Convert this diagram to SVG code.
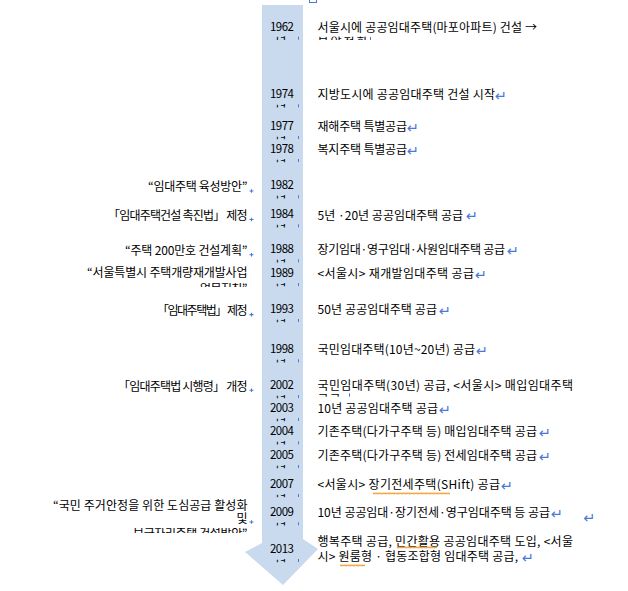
<svg xmlns="http://www.w3.org/2000/svg" width="628" height="591" viewBox="0 0 628 591">
<style>
text{font-family:"Noto Sans CJK KR","Noto Sans",sans-serif;font-size:12px;fill:#000}
.yr{text-anchor:middle;font-size:11.5px}
.l{text-anchor:end}
.pm{font-family:"DejaVu Sans",sans-serif;font-size:14.5px;fill:#4a78d6}
.tick{stroke:#4a78d6;stroke-width:1}
.plus{stroke:#4a78d6;stroke-width:1.1;fill:none}
</style>
<defs>
<clipPath id="cy" clipPathUnits="userSpaceOnUse"><rect x="260" y="5.5" width="50" height="3.8"/></clipPath>
<clipPath id="c1962r" clipPathUnits="userSpaceOnUse"><rect x="310" y="36.6" width="80" height="3.5"/></clipPath>
<clipPath id="c1989l" clipPathUnits="userSpaceOnUse"><rect x="150" y="283" width="100" height="4"/></clipPath>
<clipPath id="c2002r" clipPathUnits="userSpaceOnUse"><rect x="310" y="393.3" width="60" height="3.4"/></clipPath>
<clipPath id="c2009l" clipPathUnits="userSpaceOnUse"><rect x="120" y="528" width="130" height="5"/></clipPath>
<pattern id="wv" width="4" height="3" patternUnits="userSpaceOnUse"><path d="M0,2.4 L1,0.6 L2,2.4 L3,0.6 L4,2.4" stroke="#f0a030" stroke-width="0.9" fill="none"/></pattern>
</defs>
<rect width="628" height="591" fill="#fff"/>

<g id="timeline">
<polygon points="262,5 303,5 303,539 318,549 283,585 245,552 262,543" fill="#c9daee"/>
<rect x="309.5" y="-4" width="7" height="6.5" fill="none" stroke="#4a78d6" stroke-width="1"/>
</g>

<g id="connectors"></g>

<g id="e1962">
<g transform="translate(0,30.7)"><text class="yr" x="282" y="0" textLength="24">1962</text><text class="yr" x="281" y="15.6" clip-path="url(#cy)">년</text><line class="tick" x1="298.5" y1="6" x2="298.5" y2="9"/></g>
<text x="317.5" y="31.5" textLength="219.5">서울시에 공공임대주택(마포아파트) 건설 →</text>
<text x="317.5" y="46.8" textLength="50" clip-path="url(#c1962r)">분양전환</text>
<line class="tick" x1="370.5" y1="37" x2="370.5" y2="40"/>
</g>

<g id="e1974">
<g transform="translate(0,98.3)"><text class="yr" x="282" y="0" textLength="24">1974</text><text class="yr" x="281" y="15.6" clip-path="url(#cy)">년</text><line class="tick" x1="298.5" y1="6" x2="298.5" y2="9"/></g>
<text x="317.5" y="99.3" textLength="177.5">지방도시에 공공임대주택 건설 시작</text>
<text class="pm" x="495" y="101">↵</text>
</g>

<g id="e1977">
<g transform="translate(0,130)"><text class="yr" x="282" y="0" textLength="24">1977</text><text class="yr" x="281" y="15.6" clip-path="url(#cy)">년</text><line class="tick" x1="298.5" y1="6" x2="298.5" y2="9"/></g>
<text x="317.5" y="131" textLength="89.5">재해주택 특별공급</text>
<text class="pm" x="407" y="132.7">↵</text>
</g>

<g id="e1978">
<g transform="translate(0,153)"><text class="yr" x="282" y="0" textLength="24">1978</text><text class="yr" x="281" y="15.6" clip-path="url(#cy)">년</text><line class="tick" x1="298.5" y1="6" x2="298.5" y2="9"/></g>
<text x="317.5" y="154" textLength="89.5">복지주택 특별공급</text>
<text class="pm" x="407" y="155.7">↵</text>
</g>

<g id="e1982">
<g transform="translate(0,189.3)"><text class="yr" x="282" y="0" textLength="24">1982</text><text class="yr" x="281" y="15.6" clip-path="url(#cy)">년</text><line class="tick" x1="298.5" y1="6" x2="298.5" y2="9"/></g>
<text class="l" x="247.5" y="190.5" textLength="99.5">“임대주택 육성방안”</text>
<path class="plus" d="M249.5,191 h4 M251.5,189.2 v3.6"/>
</g>

<g id="e1984">
<g transform="translate(0,218.3)"><text class="yr" x="282" y="0" textLength="24">1984</text><text class="yr" x="281" y="15.6" clip-path="url(#cy)">년</text><line class="tick" x1="298.5" y1="6" x2="298.5" y2="9"/></g>
<text class="l" x="247.5" y="219.5" textLength="139.5">「임대주택건설 촉진법」 제정</text>
<path class="plus" d="M249.5,219.5 h4 M251.5,217.7 v3.6"/>
<text x="317.5" y="219.5" textLength="145.5">5년 ·20년 공공임대주택 공급</text>
<text class="pm" x="466" y="221.2">↵</text>
</g>

<g id="e1988">
<g transform="translate(0,253.3)"><text class="yr" x="282" y="0" textLength="24">1988</text><text class="yr" x="281" y="15.6" clip-path="url(#cy)">년</text><line class="tick" x1="298.5" y1="6" x2="298.5" y2="9"/></g>
<text class="l" x="247.5" y="254.5" textLength="122.5">“주택 200만호 건설계획”</text>
<path class="plus" d="M249.5,254.7 h4 M251.5,252.9 v3.6"/>
<text x="317.5" y="254.3" textLength="187.5">장기임대·영구임대·사원임대주택 공급</text>
<text class="pm" x="507" y="256">↵</text>
</g>

<g id="e1989">
<g transform="translate(0,277)"><text class="yr" x="282" y="0" textLength="24">1989</text><text class="yr" x="281" y="15.6" clip-path="url(#cy)">년</text><line class="tick" x1="298.5" y1="6" x2="298.5" y2="9"/></g>
<text class="l" x="247.5" y="276.8" textLength="160.5">“서울특별시 주택개량재개발사업</text>
<text class="l" x="247.5" y="293.3" textLength="47.5" clip-path="url(#c1989l)">업무지침”</text>
<text x="317.5" y="278" textLength="156.5">&lt;서울시&gt; 재개발임대주택 공급</text>
<text class="pm" x="475" y="279.7">↵</text>
</g>

<g id="e1993">
<g transform="translate(0,313)"><text class="yr" x="282" y="0" textLength="24">1993</text><text class="yr" x="281" y="15.6" clip-path="url(#cy)">년</text><line class="tick" x1="298.5" y1="6" x2="298.5" y2="9"/></g>
<text class="l" x="247.5" y="314.5" textLength="90.5">「임대주택법」 제정</text>
<path class="plus" d="M249.5,314.6 h4 M251.5,312.8 v3.6"/>
<text x="317.5" y="314" textLength="119.5">50년 공공임대주택 공급</text>
<text class="pm" x="439" y="315.7">↵</text>
</g>

<g id="e1998">
<g transform="translate(0,353.3)"><text class="yr" x="282" y="0" textLength="24">1998</text><text class="yr" x="281" y="15.6" clip-path="url(#cy)">년</text><line class="tick" x1="298.5" y1="6" x2="298.5" y2="9"/></g>
<text x="317.5" y="354.3" textLength="157.5">국민임대주택(10년~20년) 공급</text>
<text class="pm" x="476" y="356">↵</text>
</g>

<g id="e2002">
<g transform="translate(0,389)"><text class="yr" x="282" y="0" textLength="24">2002</text><text class="yr" x="281" y="15.6" clip-path="url(#cy)">년</text><line class="tick" x1="298.5" y1="6" x2="298.5" y2="9"/></g>
<text class="l" x="247.5" y="391" textLength="129.5">「임대주택법 시행령」 개정</text>
<path class="plus" d="M249.5,390.3 h4 M251.5,388.5 v3.6"/>
<text x="317.5" y="390" textLength="255.5">국민임대주택(30년) 공급, &lt;서울시&gt; 매입임대주택</text>
<text x="317.5" y="403.5" textLength="23" clip-path="url(#c2002r)">공급</text>
<line class="tick" x1="349.5" y1="393.3" x2="349.5" y2="396.7"/>
</g>

<g id="e2003">
<g transform="translate(0,412)"><text class="yr" x="282" y="0" textLength="24">2003</text><text class="yr" x="281" y="15.6" clip-path="url(#cy)">년</text><line class="tick" x1="298.5" y1="6" x2="298.5" y2="9"/></g>
<text x="317.5" y="413" textLength="120.5">10년 공공임대주택 공급</text>
<text class="pm" x="439" y="414.7">↵</text>
</g>

<g id="e2004">
<g transform="translate(0,435.3)"><text class="yr" x="282" y="0" textLength="24">2004</text><text class="yr" x="281" y="15.6" clip-path="url(#cy)">년</text><line class="tick" x1="298.5" y1="6" x2="298.5" y2="9"/></g>
<text x="317.5" y="436.3" textLength="219.5">기존주택(다가구주택 등) 매입임대주택 공급</text>
<text class="pm" x="539" y="438">↵</text>
</g>

<g id="e2005">
<g transform="translate(0,459)"><text class="yr" x="282" y="0" textLength="24">2005</text><text class="yr" x="281" y="15.6" clip-path="url(#cy)">년</text><line class="tick" x1="298.5" y1="6" x2="298.5" y2="9"/></g>
<text x="317.5" y="460" textLength="219.5">기존주택(다가구주택 등) 전세임대주택 공급</text>
<text class="pm" x="539" y="461.7">↵</text>
</g>

<g id="e2007">
<g transform="translate(0,488)"><text class="yr" x="282" y="0" textLength="24">2007</text><text class="yr" x="281" y="15.6" clip-path="url(#cy)">년</text><line class="tick" x1="298.5" y1="6" x2="298.5" y2="9"/></g>
<text x="317.5" y="489" textLength="182.5">&lt;서울시&gt; 장기전세주택(SHift) 공급</text>
<rect x="373" y="492" width="77" height="3" fill="url(#wv)"/>
<text class="pm" x="501" y="490.7">↵</text>
</g>

<g id="e2009">
<g transform="translate(0,516.3)"><text class="yr" x="282" y="0" textLength="24">2009</text><text class="yr" x="281" y="15.6" clip-path="url(#cy)">년</text><line class="tick" x1="298.5" y1="6" x2="298.5" y2="9"/></g>
<text class="l" x="247.5" y="509.5" textLength="194.5">“국민 주거안정을 위한 도심공급 활성화</text>
<text class="l" x="247.5" y="522.5">및</text>
<path class="plus" d="M249.5,522 h4 M251.5,520.2 v3.6"/>
<text class="l" x="247.5" y="538.3" textLength="114.5" clip-path="url(#c2009l)">보금자리주택 건설방안”</text>
<text x="317.5" y="517" textLength="232.5">10년 공공임대·장기전세·영구임대주택 등 공급</text>
<text class="pm" x="551" y="518.7">↵</text>
<text class="pm" x="583.5" y="522.7">↵</text>
</g>

<g id="e2013">
<g transform="translate(0,553)"><text class="yr" x="282" y="0" textLength="24">2013</text><text class="yr" x="281" y="15.6" clip-path="url(#cy)">년</text><line class="tick" x1="298.5" y1="6" x2="298.5" y2="9"/></g>
<text x="317.5" y="545.5" textLength="255.5">행복주택 공급, 민간활용 공공임대주택 도입, &lt;서울</text>
<rect x="397" y="546" width="40" height="3" fill="url(#wv)"/>
<text x="317.5" y="561" textLength="200.5">시&gt; 원룸형 · 협동조합형 임대주택 공급,</text>
<rect x="340" y="564" width="25" height="3" fill="url(#wv)"/>
<text class="pm" x="522" y="562.7">↵</text>
</g>
</svg>
